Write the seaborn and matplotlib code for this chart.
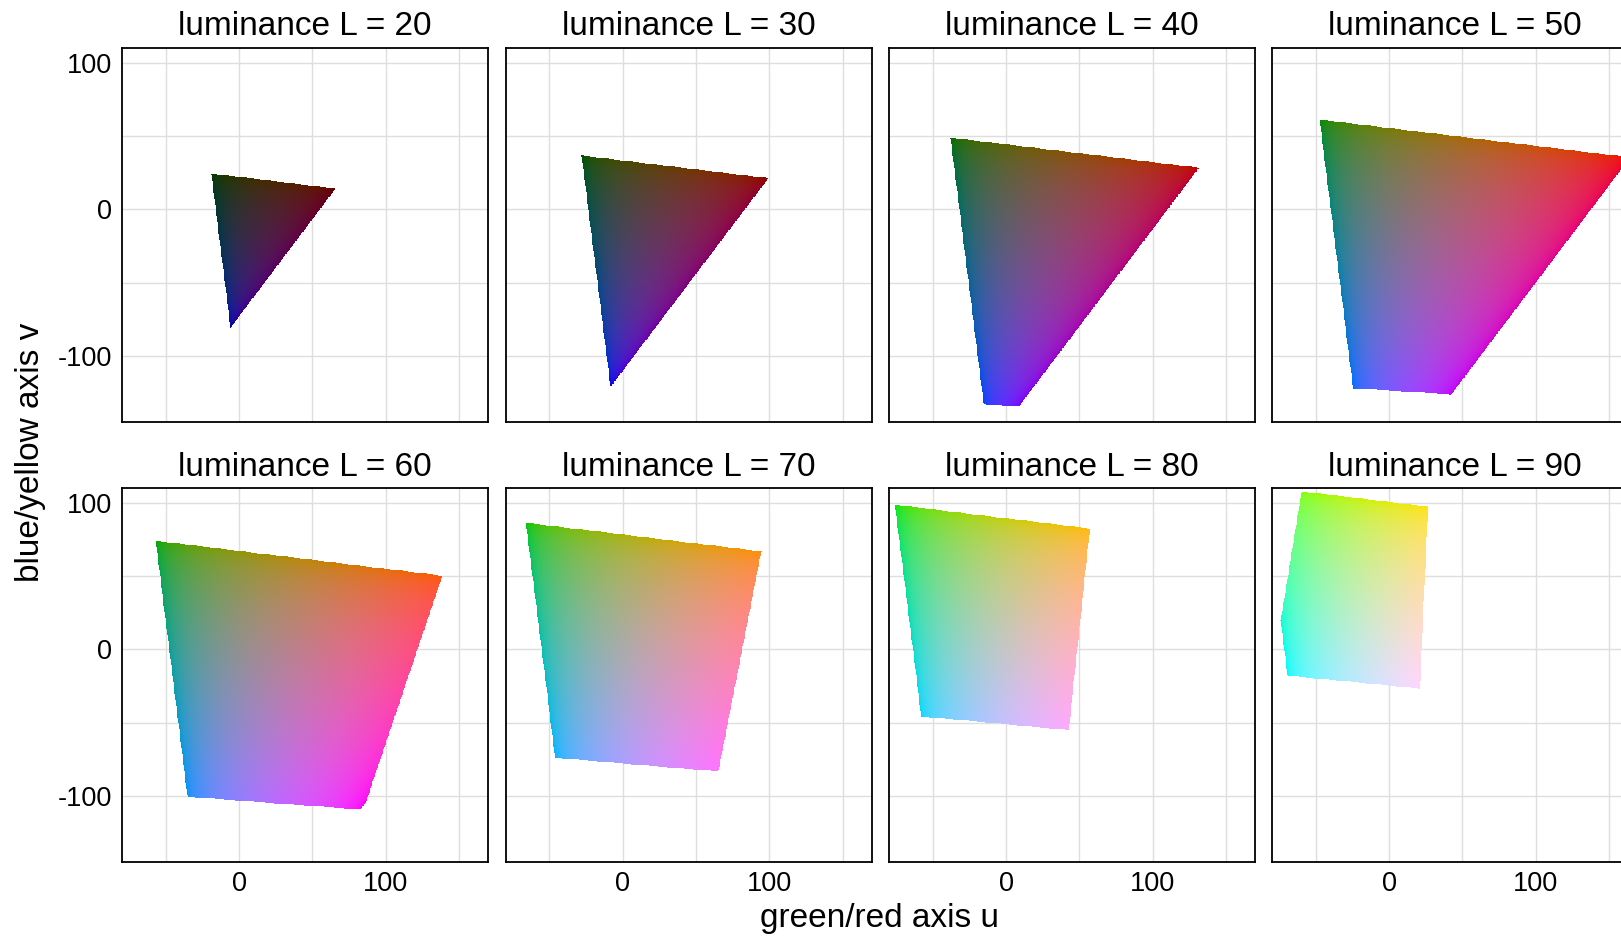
import numpy as np
import pandas as pd
import matplotlib
matplotlib.use("Agg")
import matplotlib.pyplot as plt
import seaborn as sns

# ---- data -------------------------------------------------------------
L_LEVELS = [20, 30, 40, 50, 60, 70, 80, 90]          # luminance of each facet
U_LIMITS = [-79.8, 169.7]                             # green/red axis range
V_LIMITS = [-145.0, 110.0]                            # blue/yellow axis range
GRID_STEP = 0.5                                       # sampling step of the u/v grid
X_TICKS = [0, 100]
X_MINOR = [-50, 50, 150]
Y_TICKS = [-100, 0, 100]
Y_MINOR = [-50, 50]
TITLE_FMT = "luminance L = {col_name}"
X_LABEL = "green/red axis u"
Y_LABEL = "blue/yellow axis v"

W, H, DPI = 1621, 940, 100

sns.set_theme(style="white")
plt.rcParams["font.family"] = ["Liberation Sans", "DejaVu Sans"]
plt.rcParams["axes.unicode_minus"] = False
plt.rcParams["text.color"] = "black"
plt.rcParams["axes.labelcolor"] = "black"
plt.rcParams["xtick.color"] = "black"
plt.rcParams["ytick.color"] = "black"


def luv_to_srgb(L, u, v):
    """CIE L*u*v* (D65) -> sRGB; returns rgb array and in-gamut mask."""
    Xn, Yn, Zn = 0.95047, 1.0, 1.08883
    un = 4 * Xn / (Xn + 15 * Yn + 3 * Zn)
    vn = 9 * Yn / (Xn + 15 * Yn + 3 * Zn)
    Y = ((L + 16) / 116) ** 3 if L > 8 else L / 903.3
    with np.errstate(divide="ignore", invalid="ignore"):
        up = u / (13 * L) + un
        vp = v / (13 * L) + vn
        X = Y * 9 * up / (4 * vp)
        Z = Y * (12 - 3 * up - 20 * vp) / (4 * vp)
    M = np.array([[3.2406, -1.5372, -0.4986],
                  [-0.9689, 1.8758, 0.0415],
                  [0.0557, -0.2040, 1.0570]])
    xyz = np.stack([X, np.full_like(X, Y), Z], axis=-1)
    lin = xyz @ M.T
    ok = np.all(np.isfinite(lin), axis=-1) & (vp > 0)
    ok &= np.all((lin >= -1e-6) & (lin <= 1 + 1e-6), axis=-1)
    lin = np.clip(np.nan_to_num(lin), 0, 1)
    rgb = np.where(lin <= 0.0031308, 12.92 * lin, 1.055 * lin ** (1 / 2.4) - 0.055)
    return np.clip(rgb, 0, 1), ok


df = pd.DataFrame({"L": L_LEVELS})


def draw_slice(data, **kws):
    ax = plt.gca()
    L = float(data["L"].iloc[0])
    u = np.arange(U_LIMITS[0], U_LIMITS[1] + GRID_STEP, GRID_STEP)
    v = np.arange(V_LIMITS[0], V_LIMITS[1] + GRID_STEP, GRID_STEP)
    uu, vv = np.meshgrid(u, v)
    rgb, ok = luv_to_srgb(L, uu, vv)
    rgba = np.concatenate([rgb, ok[..., None].astype(float)], axis=-1)
    h = GRID_STEP / 2
    ax.imshow(rgba, origin="lower", interpolation="nearest", aspect="auto",
              extent=[u[0] - h, u[-1] + h, v[0] - h, v[-1] + h], zorder=2)


g = sns.FacetGrid(df, col="L", col_wrap=4, sharex=True, sharey=True,
                  height=3.7, aspect=1.0, despine=False)
g.map_dataframe(draw_slice)
g.set_titles(TITLE_FMT)

fig = g.figure
fig.set_size_inches(W / DPI, H / DPI)
fig.set_dpi(DPI)
fig.patch.set_facecolor("white")

col_left = [122, 505.5, 889, 1272]
row_top = [48, 488]
pw, ph = 366, 374

for i, ax in enumerate(g.axes.flat):
    r, c = divmod(i, 4)
    ax.set_position([col_left[c] / W, 1 - (row_top[r] + ph) / H, pw / W, ph / H])
    ax.set_xlim(*U_LIMITS)
    ax.set_ylim(*V_LIMITS)
    ax.set_xticks(X_TICKS)
    ax.set_xticks(X_MINOR, minor=True)
    ax.set_yticks(Y_TICKS)
    ax.set_yticks(Y_MINOR, minor=True)
    ax.set_facecolor("white")
    ax.grid(True, which="both", color="#DEDEDE", linewidth=1.0, zorder=0)
    ax.set_axisbelow(True)
    ax.tick_params(which="both", length=0, labelsize=19.5, colors="black",
                   labelcolor="black")
    ax.tick_params(axis="y", pad=7.2)
    ax.tick_params(axis="x", pad=6.5)
    ax.set_xlabel("")
    ax.set_ylabel("")
    if r == 0:
        ax.tick_params(axis="x", labelbottom=False)
    if c > 0:
        ax.tick_params(axis="y", labelleft=False)
    for s in ax.spines.values():
        s.set_color("black")
        s.set_linewidth(1.3)
        s.set_visible(True)
    ax.set_title(ax.get_title(), fontsize=24, pad=9.0, color="black")

fig.text(880 / W, 1 - 918 / H, X_LABEL, ha="center", va="center",
         fontsize=24, color="black")
fig.text(31 / W, 1 - 452 / H, Y_LABEL, ha="center", va="center",
         rotation=90, fontsize=24, color="black")

fig.savefig("out.png", dpi=DPI, facecolor="white")
